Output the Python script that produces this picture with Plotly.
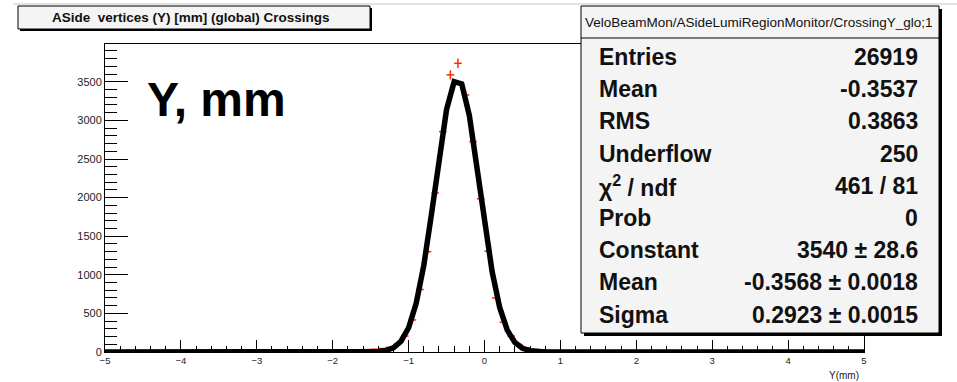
import numpy as np
import plotly.graph_objects as go

# Histogram: 100 bins of 0.1 mm between -5 and 5
bin_low, bin_width, n_bins = -5.0, 0.1, 100
bin_centers = [round(bin_low + bin_width * (i + 0.5), 2) for i in range(n_bins)]
counts = [
    5, 6, 5, 7, 6, 6, 7, 8, 7, 7,
    8, 8, 9, 8, 9, 10, 9, 10, 11, 11,
    12, 11, 13, 13, 14, 15, 15, 17, 18, 20,
    21, 23, 25, 28, 31, 36, 45, 60, 100, 207,
    415, 810, 1300, 2060, 2855, 3590, 3740, 3330, 2725, 1985,
    1305, 700, 385, 207, 97, 50, 33, 26, 21, 18,
    16, 14, 13, 12, 11, 10, 10, 9, 9, 8,
    8, 7, 8, 7, 6, 7, 6, 6, 5, 6,
    5, 5, 4, 5, 4, 4, 5, 3, 4, 4,
    3, 4, 3, 3, 2, 3, 3, 2, 3, 2,
]

# Gaussian fit result
fit_constant = 3540
fit_mean = -0.3568
fit_sigma = 0.2923

stat_labels = ["Entries", "Mean", "RMS", "Underflow", "\u03c7<sup>2</sup> / ndf",
               "Prob", "Constant", "Mean", "Sigma"]
stat_values = ["26919", "-0.3537", "0.3863", "250", "461 / 81", "0",
               "3540 \u00b1 28.6", "-0.3568 \u00b1 0.0018", "0.2923 \u00b1 0.0015"]

title_text = "ASide  vertices (Y) [mm] (global) Crossings"
stats_header = "VeloBeamMon/ASideLumiRegionMonitor/CrossingY_glo;1"
x_title = "Y(mm)"
big_label = "Y, mm"

W, H = 957, 382
PL, PR, PT, PB = 105, 864, 44, 352
FONT = "Liberation Sans, Arial, Helvetica, sans-serif"


def fx(px):
    return (px - PL) / (PR - PL)


def fy(py):
    return (PB - py) / (PB - PT)


fig = go.Figure()

# data points with statistical errors
fig.add_trace(go.Scatter(
    x=bin_centers, y=counts, mode="markers",
    marker=dict(size=1, color="#ff2a00"),
    error_x=dict(type="constant", value=bin_width / 2, color="#ff2a00", thickness=1.5, width=0),
    error_y=dict(type="data", array=np.sqrt(counts), color="#ff2a00", thickness=1.5, width=0),
    showlegend=False, hoverinfo="skip",
))

# fitted gaussian, sampled like a TF1 with 100 steps
xf = np.linspace(bin_low, bin_low + bin_width * n_bins, 101)
yf = fit_constant * np.exp(-0.5 * ((xf - fit_mean) / fit_sigma) ** 2)
fig.add_trace(go.Scatter(x=xf, y=yf, mode="lines",
                         line=dict(color="black", width=5.5),
                         showlegend=False, hoverinfo="skip"))

shapes = []
annotations = []

# faint page border line at the top
shapes.append(dict(type="line", xref="paper", yref="paper",
                   x0=fx(13), x1=fx(957), y0=fy(4), y1=fy(4),
                   line=dict(color="#d8d8d8", width=1.5), layer="above"))


def box(x0, y0, x1, y1, sh=3):
    shapes.append(dict(type="rect", xref="paper", yref="paper",
                       x0=fx(x0 + sh), x1=fx(x1 + sh), y0=fy(y1 + sh), y1=fy(y0 + sh),
                       fillcolor="black", line=dict(width=0), layer="above"))
    shapes.append(dict(type="rect", xref="paper", yref="paper",
                       x0=fx(x0), x1=fx(x1), y0=fy(y1), y1=fy(y0),
                       fillcolor="#f4f4f4", line=dict(color="black", width=1), layer="above"))


# title box
box(18, 6, 370, 29, sh=2)
annotations.append(dict(xref="paper", yref="paper", x=fx(191), y=fy(17.5),
                        text="<b>" + title_text + "</b>", showarrow=False,
                        xanchor="center", yanchor="middle",
                        font=dict(family=FONT, size=13.5, color="#111")))

# statistics box
box(581, 6, 939, 333, sh=3)
shapes.append(dict(type="line", xref="paper", yref="paper",
                   x0=fx(581), x1=fx(939), y0=fy(38), y1=fy(38),
                   line=dict(color="black", width=1), layer="above"))
annotations.append(dict(xref="paper", yref="paper", x=fx(758), y=fy(22),
                        text=stats_header, showarrow=False,
                        xanchor="center", yanchor="middle",
                        font=dict(family=FONT, size=13.5, color="#111")))
for i, (lab, val) in enumerate(zip(stat_labels, stat_values)):
    yc = 57 + 32.2 * i
    annotations.append(dict(xref="paper", yref="paper", x=fx(597), y=fy(yc),
                            text="<b>" + lab + "</b>", showarrow=False,
                            xanchor="left", yanchor="middle",
                            font=dict(family=FONT, size=23, color="#111")))
    annotations.append(dict(xref="paper", yref="paper", x=fx(920), y=fy(yc),
                            text="<b>" + val + "</b>", showarrow=False,
                            xanchor="right", yanchor="middle",
                            font=dict(family=FONT, size=23, color="#111")))

# large variable label
annotations.append(dict(xref="paper", yref="paper", x=fx(216), y=fy(99),
                        text="<b>" + big_label + "</b>", showarrow=False,
                        xanchor="center", yanchor="middle",
                        font=dict(family=FONT, size=48, color="black")))

# x-axis title
annotations.append(dict(xref="paper", yref="paper", x=fx(861), y=fy(375),
                        text=x_title, showarrow=False,
                        xanchor="right", yanchor="middle",
                        font=dict(family=FONT, size=10, color="#222")))

fig.update_layout(
    width=W, height=H,
    margin=dict(l=PL, r=W - PR, t=PT, b=H - PB, pad=0),
    paper_bgcolor="white", plot_bgcolor="white",
    shapes=shapes, annotations=annotations,
    font=dict(family=FONT, color="#222"),
)

fig.update_xaxes(
    range=[-5, 5], showgrid=False, zeroline=False,
    showline=True, linecolor="black", linewidth=1, mirror=True,
    tickmode="linear", tick0=-5, dtick=1,
    ticks="inside", ticklen=12, tickwidth=1, tickcolor="black",
    minor=dict(dtick=0.2, ticks="inside", ticklen=6, tickwidth=1, tickcolor="black", showgrid=False),
    tickfont=dict(family=FONT, size=9.5, color="#222"),
)
fig.update_yaxes(
    range=[0, 3990], showgrid=False, zeroline=False,
    showline=True, linecolor="black", linewidth=1, mirror=True,
    tickmode="linear", tick0=0, dtick=500,
    ticks="inside", ticklen=23, tickwidth=1, tickcolor="black",
    minor=dict(dtick=100, ticks="inside", ticklen=12, tickwidth=1, tickcolor="black", showgrid=False),
    tickfont=dict(family=FONT, size=11, color="#222"),
)

fig.write_html("out.html")
